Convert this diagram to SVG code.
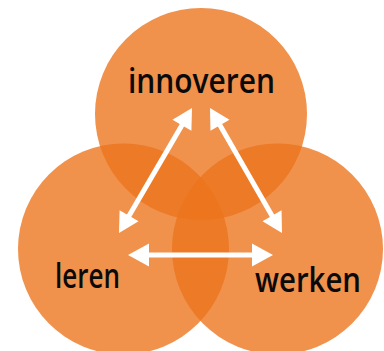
<svg xmlns="http://www.w3.org/2000/svg" width="384" height="351" viewBox="0 0 384 351">
<style>
.c{fill:#EC741C;fill-opacity:0.79}
.t{font-family:"Open Sans","DejaVu Sans",sans-serif;font-weight:600;font-size:34px;fill:#0a0a0a}
.ln{stroke:#fff;stroke-width:5;fill:none}
.hd{fill:#fff}
</style>
<rect width="384" height="351" fill="#fff"/>
<g id="innoveren">
<circle class="c" cx="201" cy="114" r="106"/>
<text class="t" x="128" y="93" textLength="147" lengthAdjust="spacingAndGlyphs">innoveren</text>
</g>
<g id="leren">
<circle class="c" cx="123.5" cy="249" r="105.5"/>
</g>
<g id="werken">
<circle class="c" cx="277.5" cy="249" r="105.5"/>
</g>
<g id="labels">
<text class="t" x="55" y="288" textLength="65" lengthAdjust="spacingAndGlyphs">leren</text>
<text class="t" x="255" y="292" textLength="106" lengthAdjust="spacingAndGlyphs">werken</text>
</g>
<g id="connectors">
<line class="ln" x1="128.08" y1="217.46" x2="182.92" y2="123.54"/>
<polygon class="hd" points="192,108 191.41,130.82 172.41,119.72"/>
<polygon class="hd" points="119,233 138.59,221.28 119.59,210.18"/>
<line class="ln" x1="273.02" y1="217.40" x2="218.98" y2="123.60"/>
<polygon class="hd" points="210,108 229.51,119.84 210.45,130.82"/>
<polygon class="hd" points="282,233 281.55,210.18 262.49,221.16"/>
<line class="ln" x1="147" y1="255" x2="254" y2="255"/>
<polygon class="hd" points="128,255 149,243.5 149,266.5"/>
<polygon class="hd" points="273,255 252,243.5 252,266.5"/>
</g>
</svg>
